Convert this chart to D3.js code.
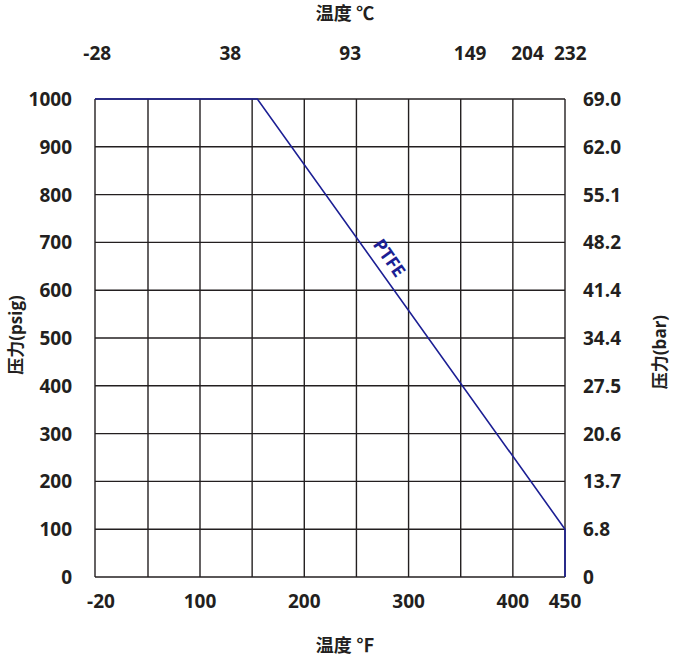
<!DOCTYPE html>
<html><head><meta charset="utf-8">
<script src="https://cdn.jsdelivr.net/npm/d3@7"></script>
<style>body{margin:0;background:#fff}text{font-family:"Open Sans","Noto Sans CJK SC",sans-serif;font-weight:bold;fill:#231f20}</style>
</head><body><svg width="673" height="659"></svg>
<script>
var gridF = [-20, 50, 100, 150, 200, 250, 300, 350, 400, 450];
var bottomTicks = [-20, 100, 200, 300, 400, 450];
var topTicksF = [-17, 129, 244, 359, 414, 455];
var topLabels = ["-28", "38", "93", "149", "204", "232"];
var psigTicks = [0, 100, 200, 300, 400, 500, 600, 700, 800, 900, 1000];
var barLabels = ["0", "6.8", "13.7", "20.6", "27.5", "34.4", "41.4", "48.2", "55.1", "62.0", "69.0"];
var ptfeF = [-20, 155, 450, 450];
var ptfeP = [1000, 1000, 100, 0];

var svg = d3.select("svg");
var ink = "#231f20", blue = "#1c1f94";

var x = d3.scaleLinear().domain([-20, 50, 100, 450]).range([95, 148, 200, 565]);
var y = d3.scaleLinear().domain([0, 1000]).range([577, 99]);

// grid
svg.selectAll("line.v").data(gridF).enter().append("line")
    .attr("x1", function(d) { return x(d); }).attr("x2", function(d) { return x(d); })
    .attr("y1", y(0)).attr("y2", y(1000)).attr("stroke", ink).attr("stroke-width", 1.4);
svg.selectAll("line.h").data(psigTicks).enter().append("line")
    .attr("x1", x(-20)).attr("x2", x(450))
    .attr("y1", function(d) { return y(d); }).attr("y2", function(d) { return y(d); })
    .attr("stroke", ink).attr("stroke-width", 1.4);

// tick labels
svg.selectAll("text.b").data(bottomTicks).enter().append("text")
    .attr("x", function(d) { return x(d) + (d == -20 ? 6 : 0); }).attr("y", 608)
    .attr("text-anchor", "middle").attr("font-size", 19).text(function(d) { return d; });
svg.selectAll("text.t").data(topTicksF).enter().append("text")
    .attr("x", function(d) { return x(d); }).attr("y", 60)
    .attr("text-anchor", "middle").attr("font-size", 19).text(function(d, i) { return topLabels[i]; });
svg.selectAll("text.l").data(psigTicks).enter().append("text")
    .attr("x", 72).attr("y", function(d) { return y(d) + 7; })
    .attr("text-anchor", "end").attr("font-size", 19).text(function(d) { return d; });
svg.selectAll("text.r").data(psigTicks).enter().append("text")
    .attr("x", 583).attr("y", function(d) { return y(d) + 7; })
    .attr("font-size", 19).text(function(d, i) { return barLabels[i]; });

// titles
svg.append("text").attr("x", 345).attr("y", 20).attr("text-anchor", "middle").attr("font-size", 18).text("温度 ℃");
svg.append("text").attr("x", 345).attr("y", 652).attr("text-anchor", "middle").attr("font-size", 18).text("温度 ℉");
svg.append("text").attr("transform", "translate(22,335) rotate(-90)").attr("text-anchor", "middle").attr("font-size", 17).text("压力(psig)");
svg.append("text").attr("transform", "translate(666,352) rotate(-90)").attr("text-anchor", "middle").attr("font-size", 17).text("压力(bar)");

// PTFE line
var line = d3.line().x(function(d) { return x(d[0]); }).y(function(d) { return y(d[1]); });
svg.append("path").datum(ptfeF.map(function(f, i) { return [f, ptfeP[i]]; }))
    .attr("d", line).attr("fill", "none").attr("stroke", blue).attr("stroke-width", 1.6);
svg.append("text").attr("transform", "translate(" + (x(267) + 10) + "," + (y(660)) + ") rotate(55)")
    .attr("text-anchor", "middle").attr("font-size", 18).style("fill", blue).text("PTFE");
</script></body></html>
